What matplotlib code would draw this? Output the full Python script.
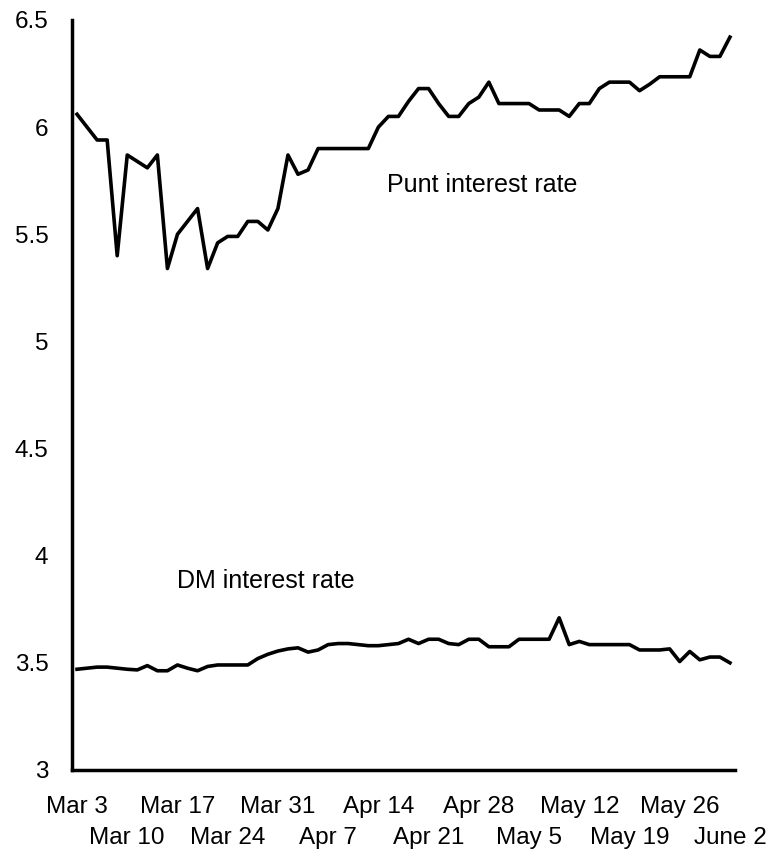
import matplotlib
matplotlib.use('Agg')
import matplotlib.pyplot as plt

plt.rcParams['font.family'] = ['Liberation Sans', 'DejaVu Sans']

# Daily (business day) rates, Mar 3 - June 2
punt_rate = [6.06, 6.00, 5.94, 5.94, 5.40, 5.87, 5.84, 5.81, 5.87, 5.34,
             5.50, 5.56, 5.62, 5.34, 5.46, 5.49, 5.49, 5.56, 5.56, 5.52,
             5.62, 5.87, 5.78, 5.80, 5.90, 5.90, 5.90, 5.90, 5.90, 5.90,
             6.00, 6.05, 6.05, 6.12, 6.18, 6.18, 6.11, 6.05, 6.05, 6.11,
             6.14, 6.21, 6.11, 6.11, 6.11, 6.11, 6.08, 6.08, 6.08, 6.05,
             6.11, 6.11, 6.18, 6.21, 6.21, 6.21, 6.17, 6.20, 6.235, 6.235,
             6.235, 6.235, 6.36, 6.33, 6.33, 6.42]

dm_rate = [3.47, 3.475, 3.48, 3.48, 3.475, 3.47, 3.467, 3.487, 3.463, 3.463,
           3.49, 3.475, 3.463, 3.483, 3.49, 3.49, 3.49, 3.49, 3.52, 3.54,
           3.555, 3.565, 3.57, 3.55, 3.56, 3.585, 3.59, 3.59, 3.585, 3.58,
           3.58, 3.585, 3.59, 3.61, 3.59, 3.61, 3.61, 3.59, 3.585, 3.61,
           3.61, 3.575, 3.575, 3.575, 3.61, 3.61, 3.61, 3.61, 3.71, 3.585,
           3.60, 3.585, 3.585, 3.585, 3.585, 3.585, 3.56, 3.56, 3.56, 3.565,
           3.506, 3.553, 3.514, 3.527, 3.527, 3.50]

week_labels = ['Mar 3', 'Mar 10', 'Mar 17', 'Mar 24', 'Mar 31', 'Apr 7', 'Apr 14',
               'Apr 21', 'Apr 28', 'May 5', 'May 12', 'May 19', 'May 26', 'June 2']
y_ticks = [3, 3.5, 4, 4.5, 5, 5.5, 6, 6.5]
y_labels = ['3', '3.5', '4', '4.5', '5', '5.5', '6', '6.5']

fig = plt.figure(figsize=(7.7, 8.58), dpi=100)
ax = fig.add_axes([0.0935, 0.1026, 0.861, 0.8741])

days = list(range(len(punt_rate)))
ax.plot(days, punt_rate, color='black', lw=2.6)
ax.plot(days, dm_rate, color='black', lw=2.6)

ax.text(30.9, 5.73, 'Punt interest rate', fontsize=18, va='center', ha='left')
ax.text(10.0, 3.88, 'DM interest rate', fontsize=18, va='center', ha='left')

ax.set_xlim(-0.5, 65.5)
ax.set_ylim(3, 6.5)

# week labels alternate between two rows: top row as major ticks, lower as minor
ticks = [i * 5 for i in range(len(week_labels))]
ax.set_xticks(ticks[::2])
ax.set_xticklabels(week_labels[::2], fontsize=17.5)
ax.set_xticks(ticks[1::2], minor=True)
ax.set_xticklabels(week_labels[1::2], minor=True, fontsize=17.5)
ax.set_yticks(y_ticks)
ax.set_yticklabels(y_labels, fontsize=17.5)
ax.tick_params(axis='x', which='major', length=0, pad=19)
ax.tick_params(axis='x', which='minor', length=0, pad=41)
ax.tick_params(axis='y', length=0, pad=17)

for side in ['top', 'right']:
    ax.spines[side].set_visible(False)
for side in ['left', 'bottom']:
    ax.spines[side].set_linewidth(2.5)

fig.savefig('out.png', dpi=100)
